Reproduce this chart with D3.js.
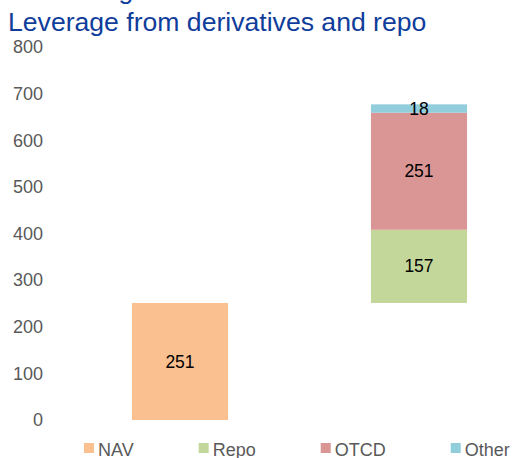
<!DOCTYPE html>
<html>
<head>
<meta charset="utf-8">
<script src="https://cdn.jsdelivr.net/npm/d3@7"></script>
<style>
  body { margin: 0; background: #fff; }
  text { font-family: "Liberation Sans", Arial, sans-serif; }
</style>
</head>
<body>
<div id="chart-area"></div>
<script>
// data
var bars = ['NAV', 'Leverage'];
var seriesNames = ['NAV', 'Repo', 'OTCD', 'Other'];
var baseValues = [0, 251];       // invisible base of the waterfall bar
var navValues = [251, 0];
var repoValues = [0, 157];
var otcdValues = [0, 251];
var otherValues = [0, 18];
var yTicks = [0, 100, 200, 300, 400, 500, 600, 700, 800];

var colors = {
  NAV: '#fac090',
  Repo: '#c4d79b',
  OTCD: '#da9694',
  Other: '#92cddc'
};

var W = 513, H = 458;

var svg = d3.select('#chart-area')
  .append('svg')
  .attr('width', W)
  .attr('height', H);

// cut-off line above the title
svg.append('text')
  .attr('x', 8)
  .attr('y', -1.5)
  .attr('font-size', '26.5px')
  .attr('fill', '#103d9b')
  .text('1. Leverage');

svg.append('text')
  .attr('x', 8)
  .attr('y', 31)
  .attr('font-size', '26.6px')
  .attr('fill', '#103d9b')
  .text('Leverage from derivatives and repo');

var y = d3.scaleLinear()
  .domain([0, 800])
  .range([420, 47]);

var x = d3.scaleBand()
  .domain(bars)
  .range([60.5, 538.5])
  .paddingInner(0.598)
  .paddingOuter(0.299);

// Y axis, labels only
var yAxis = svg.append('g')
  .attr('transform', 'translate(48, 0)')
  .call(d3.axisLeft(y).tickValues(yTicks).tickSize(0).tickPadding(5));
yAxis.select('.domain').remove();
yAxis.selectAll('text')
  .attr('font-size', '18px')
  .attr('font-family', '"Liberation Sans", Arial, sans-serif')
  .attr('fill', '#595959');

// stack the series
var table = bars.map(function(b, i) {
  return {
    bar: b,
    Base: baseValues[i],
    NAV: navValues[i],
    Repo: repoValues[i],
    OTCD: otcdValues[i],
    Other: otherValues[i]
  };
});

var stacked = d3.stack().keys(['Base'].concat(seriesNames))(table);

var layers = svg.selectAll('g.layer')
  .data(stacked.filter(function(s) { return s.key !== 'Base'; }))
  .enter()
  .append('g')
    .attr('class', 'layer')
    .attr('fill', function(s) { return colors[s.key]; });

layers.selectAll('rect')
  .data(function(s) { return s.filter(function(d) { return d[1] - d[0] > 0; }); })
  .enter()
  .append('rect')
    .attr('x', function(d) { return x(d.data.bar); })
    .attr('width', x.bandwidth())
    .attr('y', function(d) { return y(d[1]); })
    .attr('height', function(d) { return y(d[0]) - y(d[1]); });

// value labels
layers.selectAll('text')
  .data(function(s) { return s.filter(function(d) { return d[1] - d[0] > 0; }); })
  .enter()
  .append('text')
    .attr('x', function(d) { return x(d.data.bar) + x.bandwidth() / 2; })
    .attr('y', function(d) { return (y(d[0]) + y(d[1])) / 2; })
    .attr('dy', '0.35em')
    .attr('text-anchor', 'middle')
    .attr('font-size', '17.5px')
    .attr('fill', '#000')
    .text(function(d) { return d[1] - d[0]; });

// legend
var legend = svg.append('g').attr('class', 'legend');
var lx = 84;
seriesNames.forEach(function(name) {
  legend.append('rect')
    .attr('x', lx)
    .attr('y', 443)
    .attr('width', 10)
    .attr('height', 10)
    .attr('fill', colors[name]);
  var t = legend.append('text')
    .attr('x', lx + 14)
    .attr('y', 455.5)
    .attr('font-size', '18px')
    .attr('fill', '#595959')
    .text(name);
  lx += 14 + t.node().getComputedTextLength() + 65;
});
</script>
</body>
</html>
